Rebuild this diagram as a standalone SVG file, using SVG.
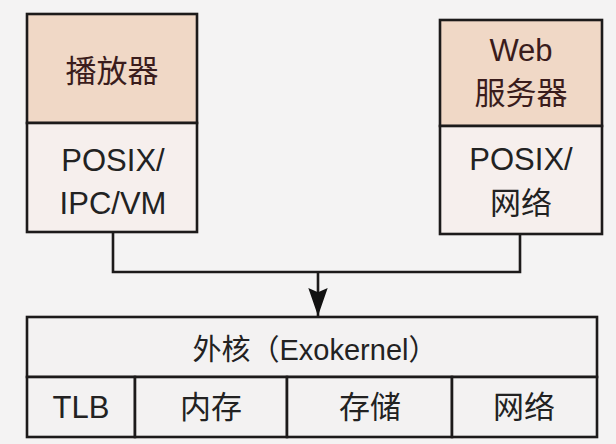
<svg xmlns="http://www.w3.org/2000/svg" width="616" height="444" viewBox="0 0 616 444">
<defs>
<style>
.box{stroke:#1c1a1a;stroke-width:2.6;}
.tan{fill:#f0d8c6;}
.low{fill:#f6efed;}
.base{fill:#f3f2f2;}
.t{font-family:"Liberation Sans","Noto Sans CJK SC",sans-serif;font-size:31px;text-anchor:middle;fill:#222;}
.tr{fill:#3a1c1c;}
.conn{fill:none;stroke:#1c1a1a;stroke-width:2.6;}
</style>
<marker id="arr" markerWidth="28" markerHeight="20" refX="26" refY="9" orient="auto" markerUnits="userSpaceOnUse" viewBox="0 0 26 18">
<path d="M0,0 L26,9 L0,18 L4,9 Z" fill="#111"/>
</marker>
</defs>
<rect width="616" height="444" fill="#f4f3f3"/>
<g id="connectors">
<polyline class="conn" points="113,232 113,272 520,272 520,234"/>
<line class="conn" x1="318" y1="272" x2="318" y2="316" marker-end="url(#arr)"/>
</g>
<g id="player">
<rect class="box tan" x="27" y="14" width="170" height="109"/>
<rect class="box low" x="27" y="123" width="170" height="109"/>
<text class="t tr" x="112" y="82">播放器</text>
<text class="t" x="113" y="171">POSIX/</text>
<text class="t" x="113" y="214">IPC/VM</text>
</g>
<g id="webserver">
<rect class="box tan" x="440" y="20" width="162" height="106"/>
<rect class="box low" x="440" y="126" width="162" height="108"/>
<text class="t tr" x="521" y="61">Web</text>
<text class="t tr" x="521" y="104">服务器</text>
<text class="t" x="521" y="170">POSIX/</text>
<text class="t" x="521" y="214">网络</text>
</g>
<g id="exokernel">
<rect class="box base" x="27" y="317" width="570" height="60"/>
<text class="t" x="315" y="360" style="font-size:29px">外核（Exokernel）</text>
</g>
<g id="tlb">
<rect class="box base" x="27" y="377" width="108" height="60"/>
<text class="t" x="81" y="418">TLB</text>
</g>
<g id="memory">
<rect class="box base" x="135" y="377" width="152" height="60"/>
<text class="t" x="211" y="418">内存</text>
</g>
<g id="storage">
<rect class="box base" x="287" y="377" width="165" height="60"/>
<text class="t" x="370" y="418">存储</text>
</g>
<g id="network">
<rect class="box base" x="452" y="377" width="145" height="60"/>
<text class="t" x="524" y="418">网络</text>
</g>
</svg>
